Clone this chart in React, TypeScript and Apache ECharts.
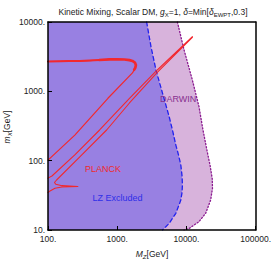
import React, { useEffect, useRef } from "react";
import * as echarts from "echarts";

// Axis ranges (log scale)
const xRange = [100, 100000];
const yRange = [10, 10000];

// LZ exclusion boundary (top -> bottom), [M_Z, m_X]
const lzBoundary: [number, number][] = [
  [2661, 10000], [3077, 4406], [3631, 2032], [4519, 936], [5636, 430],
  [6281, 277], [7031, 168], [7700, 120], [8297, 86.7], [8650, 60],
  [8750, 45], [8650, 35], [8297, 27], [7031, 17.4], [5636, 12.5], [4519, 10],
];

// DARWIN projected boundary (top -> bottom)
const darwinBoundary: [number, number][] = [
  [7413, 10000], [9247, 3945], [12190, 1455], [15200, 600], [17350, 277],
  [20000, 134.5], [22000, 85], [23600, 55], [23800, 40], [22390, 27.1],
  [18970, 17.4], [15200, 13.2], [10920, 10.5], [9247, 10],
];

// PLANCK relic-density contour, upper branch
const planckA: [number, number][] = [
  [100, 2692], [150, 2710], [200, 2730], [288, 2740], [400, 2780],
  [550, 2830], [776, 2898], [1000, 2900], [1274, 2878], [1500, 2820],
  [1660, 2740], [1800, 2600], [1862, 2400], [1830, 2200], [1760, 2050],
  [1660, 1841], [734, 794], [244, 234], [100, 102],
];
const planckATop: [number, number][] = [
  [100, 2692], [150, 2710], [200, 2730], [288, 2740], [400, 2780], [550, 2830],
];
const planckAThick: [number, number][] = [
  [550, 2830], [776, 2898], [1000, 2900], [1274, 2878], [1500, 2820],
  [1660, 2740], [1800, 2600], [1862, 2400], [1830, 2200], [1760, 2050],
];

// PLANCK contour, lower double branch with resonance spike
const planckB: [number, number][] = [
  [100, 56], [114, 60.1], [244, 121], [557, 277], [1503, 789], [3793, 2032],
  [12190, 6138], [12190, 5984], [3793, 1871], [1503, 679], [703, 277],
  [288, 113], [133, 52.6], [124, 48.4], [130, 45.6], [159, 43.6], [270, 42.5],
  [159, 41.7], [126, 39.9], [107, 36.6], [100, 34.8],
];

const FONT = "'Liberation Sans', Arial, sans-serif";

function polygonSeries(points: [number, number][], color: string, z: number) {
  return {
    type: "custom",
    coordinateSystem: "cartesian2d",
    data: points,
    encode: { x: 0, y: 1 },
    z,
    silent: true,
    clip: true,
    renderItem: (params: any, api: any) => {
      if (params.dataIndex !== 0) return null;
      const pts = points.map((p) => api.coord(p));
      return {
        type: "polygon",
        shape: { points: pts },
        style: { fill: color, stroke: "none" },
      };
    },
  };
}

function lineSeries(points: [number, number][], color: string, width: number, z: number, type: any = "solid") {
  return {
    type: "line",
    data: points,
    symbol: "none",
    showSymbol: false,
    silent: true,
    clip: true,
    z,
    lineStyle: { color, width, type, cap: "round", join: "round" },
  };
}

export default function App() {
  const ref = useRef<HTMLDivElement>(null);
  useEffect(() => {
    if (!ref.current) return;
    const chart = echarts.init(ref.current, undefined, { renderer: "svg" });
    const fmt = (v: number) => Math.round(v) + ".";
    const frameLine = { show: true, onZero: false, lineStyle: { color: "#000", width: 1.5 } };
    chart.setOption({
      animation: false,
      grid: { left: 48, top: 22, width: 209, height: 208, containLabel: false },
      xAxis: [
        {
          type: "log", logBase: 10, min: xRange[0], max: xRange[1], position: "bottom",
          axisLine: frameLine, z: 10,
          axisTick: { show: true, inside: true, length: 4, lineStyle: { color: "#000", width: 1 } },
          minorTick: { show: false },
          splitLine: { show: false },
          axisLabel: { formatter: fmt, fontSize: 8.5, fontFamily: FONT, color: "#222", margin: 4 },
        },
        {
          type: "log", logBase: 10, min: xRange[0], max: xRange[1], position: "top",
          axisLine: frameLine, z: 10, axisTick: { show: false }, axisLabel: { show: false },
          splitLine: { show: false },
        },
      ],
      yAxis: [
        {
          type: "log", logBase: 10, min: yRange[0], max: yRange[1], position: "left",
          axisLine: frameLine, z: 10,
          axisTick: { show: true, inside: true, length: 4, lineStyle: { color: "#000", width: 1 } },
          splitLine: { show: false },
          axisLabel: { formatter: fmt, fontSize: 8.5, fontFamily: FONT, color: "#222", margin: 3 },
        },
        {
          type: "log", logBase: 10, min: yRange[0], max: yRange[1], position: "right",
          axisLine: frameLine, z: 10, axisTick: { show: false }, axisLabel: { show: false },
          splitLine: { show: false },
        },
      ],
      series: [
        polygonSeries([[100, 10000], ...darwinBoundary, [100, 10]], "#d8b3dc", 1),
        polygonSeries([[100, 10000], ...lzBoundary, [100, 10]], "#9880e2", 2),
        lineSeries(darwinBoundary, "#8a1a8f", 1.3, 3, [1.2, 2]),
        lineSeries(lzBoundary, "#2222ee", 1.3, 4, [4, 3]),
        lineSeries(planckA, "#f2282e", 1.2, 5),
        lineSeries(planckATop, "#f2282e", 2, 6),
        lineSeries(planckAThick, "#f2282e", 2.7, 6),
        lineSeries(planckB, "#f2282e", 1.1, 5),
      ],
      graphic: [
        {
          type: "text", x: 153, y: 12, z: 20,
          style: {
            text: "Kinetic Mixing, Scalar DM, {i|g}{s|X}=1, {i|δ}=Min[{i|δ}{s|EWPT},0.3]",
            fontSize: 8.5, fontFamily: FONT, fill: "#222",
            textAlign: "center", textVerticalAlign: "middle", align: "center", verticalAlign: "middle",
            rich: {
              i: { fontSize: 8.5, fontStyle: "italic", fontFamily: FONT, fill: "#222" },
              s: { fontSize: 6, fontFamily: FONT, fill: "#222", padding: [5, 0, 0, 0] },
            },
          },
        },
        {
          type: "text", x: 152, y: 254, z: 20,
          style: {
            text: "{i|M}{si|Z}[GeV]",
            fontSize: 8.5, fontFamily: FONT, fill: "#222",
            textAlign: "center", textVerticalAlign: "middle", align: "center", verticalAlign: "middle",
            rich: {
              i: { fontSize: 8.5, fontStyle: "italic", fontFamily: FONT, fill: "#222" },
              si: { fontSize: 6, fontStyle: "italic", fontFamily: FONT, fill: "#222", padding: [5, 0, 0, 0] },
            },
          },
        },
        {
          type: "text", x: 7, y: 127, z: 20, rotation: Math.PI / 2,
          style: {
            text: "{i|m}{si|X}[GeV]",
            fontSize: 8.5, fontFamily: FONT, fill: "#222",
            textAlign: "center", textVerticalAlign: "middle", align: "center", verticalAlign: "middle",
            rich: {
              i: { fontSize: 8.5, fontStyle: "italic", fontFamily: FONT, fill: "#222" },
              si: { fontSize: 6, fontStyle: "italic", fontFamily: FONT, fill: "#222", padding: [5, 0, 0, 0] },
            },
          },
        },
        {
          type: "text", x: 160, y: 98.5, z: 20,
          style: { text: "DARWIN", fontSize: 9, fontFamily: FONT, fill: "#87308f",
            textAlign: "left", textVerticalAlign: "middle", align: "left", verticalAlign: "middle" },
        },
        {
          type: "text", x: 85, y: 168.5, z: 20,
          style: { text: "PLANCK", fontSize: 9, fontFamily: FONT, fill: "#ee2a2a",
            textAlign: "left", textVerticalAlign: "middle", align: "left", verticalAlign: "middle" },
        },
        {
          type: "text", x: 92.5, y: 198, z: 20,
          style: { text: "LZ Excluded", fontSize: 9, fontFamily: FONT, fill: "#2f2fe8",
            textAlign: "left", textVerticalAlign: "middle", align: "left", verticalAlign: "middle" },
        },
      ],
    });
    return () => chart.dispose();
  }, []);
  return (
    <div
      ref={ref}
      style={{ position: "fixed", left: 0, top: 0, width: 274, height: 266, background: "#fff" }}
    />
  );
}
